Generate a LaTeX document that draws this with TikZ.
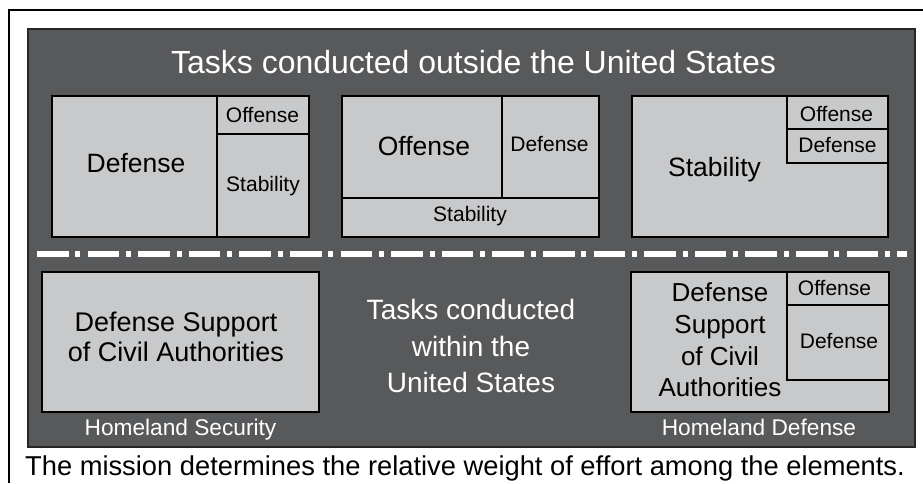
\documentclass[tikz,border=0pt]{standalone}
\usepackage{fontspec}
\setmainfont{Liberation Sans}
\definecolor{panelgray}{RGB}{88,89,91}
\definecolor{cellgray}{RGB}{200,201,203}

\begin{document}
\begin{tikzpicture}[x=1pt,y=-1pt,
    cell/.style={draw=black,fill=cellgray,line width=1.8pt},
    split/.style={line width=1.8pt},
    bigtext/.style={anchor=base,inner sep=0pt,font=\fontsize{26.5}{31}\selectfont},
    smalltext/.style={anchor=base,inner sep=0pt,font=\fontsize{21}{24}\selectfont},
    whitetext/.style={anchor=base,inner sep=0pt,text=white}]

\def\FRAMECOLOR{black}
\def\PANELCOLOR{panelgray}
\def\DIVIDERCOLOR{white}
	\useasboundingbox (0,0) rectangle (923,483);
	\draw[\FRAMECOLOR,line width=2pt] (9,483) |- (923,10);
	\draw[fill=\PANELCOLOR,draw=black!85,line width=1.2pt] (28,29) rectangle (915,447);

	% outside the United States
	\draw[cell] (52,96) rectangle (309,237);
	\draw[split] (217,96) -- (217,237);
	\draw[split] (217,134) -- (309,134);
	\draw[cell] (342,96) rectangle (599,237);
	\draw[split] (342,198) -- (599,198);
	\draw[split] (502,96) -- (502,198);
	\draw[cell] (632,96) rectangle (888,237);
	\draw[split] (787,96) |- (888,163);
	\draw[split] (787,129) -- (888,129);

	% dividing line
	\draw[\DIVIDERCOLOR,line width=6pt,dash pattern=on 31.6pt off 6.8pt on 5pt off 7.2pt] (37,254) -- (907,254);

	% within the United States
	\draw[cell] (42,272) rectangle (319,412);
	\draw[cell] (631,272) rectangle (889,412);
	\draw[split] (787,272) |- (889,380);
	\draw[split] (787,305) -- (889,305);

	\node[whitetext,font=\fontsize{32}{36}\selectfont] (outside) at (473.5,73) {Tasks conducted outside the United States};
	\node[bigtext] (defA) at (136,172) {Defense};
	\node[smalltext] (offA) at (262.5,122.7) {Offense};
	\node[smalltext] (stabA) at (263,191.7) {Stability};
	\node[bigtext] (offB) at (424,155) {Offense};
	\node[smalltext] (defB) at (549.5,151.7) {Defense};
	\node[smalltext] (stabB) at (470,221) {Stability};
	\node[bigtext] (stabC) at (714.5,176.7) {Stability};
	\node[smalltext] (offC) at (836.5,121.7) {Offense};
	\node[smalltext] (defC) at (837.5,152.7) {Defense};

	\node[anchor=north,inner sep=0pt,align=center,font=\fontsize{27}{30}\selectfont] (dsca) at (176,312) {Defense Support\\of Civil Authorities};
	\node[anchor=north,inner sep=0pt,align=center,text=white,font=\fontsize{28}{36.5}\selectfont] (within) at (471,299.5) {Tasks conducted\\within the\\United States};
	\node[anchor=north,inner sep=0pt,align=center,font=\fontsize{26}{31.7}\selectfont] (dscaD) at (720,282.7) {Defense\\Support\\of Civil\\Authorities};
	\node[smalltext] (offD) at (834.5,295) {Offense};
	\node[smalltext] (defD) at (839,348.3) {Defense};

	\node[whitetext,font=\fontsize{22.7}{26}\selectfont] (homesec) at (180.5,435) {Homeland Security};
	\node[whitetext,font=\fontsize{22.7}{26}\selectfont] (homedef) at (759,435) {Homeland Defense};
	\node[anchor=base,inner sep=0pt,font=\fontsize{27.3}{30}\selectfont] (mission) at (465,475) {The mission determines the relative weight of effort among the elements.};

          \end{tikzpicture}
\end{document}
